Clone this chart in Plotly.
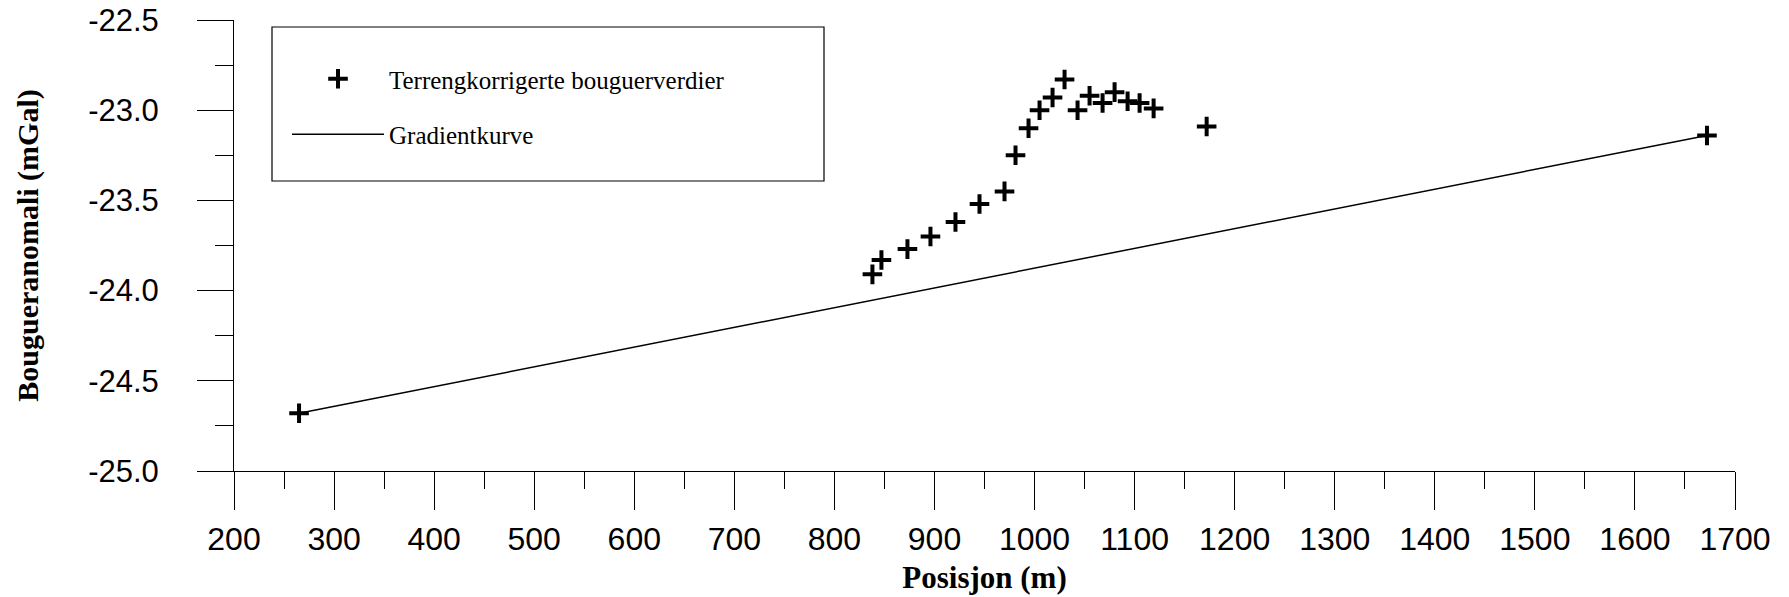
import plotly.graph_objects as go

# Terrain-corrected Bouguer values (position in m, anomaly in mGal)
pos_m = [265, 838, 847, 873, 896, 921, 945, 970, 981, 994, 1005, 1018, 1030,
         1043, 1055, 1068, 1080, 1093, 1105, 1119, 1172, 1672]
bouguer_mgal = [-24.68, -23.91, -23.83, -23.77, -23.70, -23.62, -23.52, -23.45,
                -23.25, -23.10, -23.00, -22.93, -22.83, -23.00, -22.92, -22.96,
                -22.90, -22.95, -22.96, -22.99, -23.09, -23.14]

# Gradient curve end points
grad_pos_m = [265, 1672]
grad_mgal = [-24.68, -23.14]

x_ticks = list(range(200, 1701, 100))
y_ticks = [-25.0, -24.5, -24.0, -23.5, -23.0, -22.5]
y_tick_text = ["-25.0", "-24.5", "-24.0", "-23.5", "-23.0", "-22.5"]

W, H = 1789, 597
ml, mr, mt, mb = 234, 54, 20, 126
PW, PH = W - ml - mr, H - mt - mb


def px_x(px):
    return (px - ml) / PW


def px_y(py):
    return 1 - (py - mt) / PH


fig = go.Figure()
fig.add_trace(go.Scatter(
    x=pos_m, y=bouguer_mgal, mode="markers",
    name="Terrengkorrigerte bouguerverdier", legendgroup="a",
    marker=dict(symbol="cross-thin", size=14, color="black",
                line=dict(color="black", width=4)),
))
fig.add_trace(go.Scatter(
    x=grad_pos_m, y=grad_mgal, mode="lines",
    name="Gradientkurve", legendgroup="b",
    line=dict(color="black", width=1.5),
))

axis_font = dict(family="Liberation Sans, Arial", size=31, color="black")
title_font = dict(family="Liberation Serif, Times New Roman", size=30, color="black")

fig.update_layout(
    width=W, height=H,
    margin=dict(l=ml, r=mr, t=mt, b=mb, autoexpand=False),
    paper_bgcolor="white", plot_bgcolor="white",
    showlegend=True,
    legend=dict(
        x=px_x(287), y=px_y(56),
        xanchor="left", yanchor="top",
        font=dict(family="Liberation Serif, Times New Roman", size=25, color="black"),
        bgcolor="rgba(0,0,0,0)", borderwidth=0,
        itemwidth=92, tracegroupgap=20, traceorder="grouped",
    ),
    xaxis=dict(
        range=[200, 1700], tickvals=x_ticks, ticktext=[str(v) for v in x_ticks],
        automargin=False,
        showgrid=False, zeroline=False, showline=True, linecolor="black", linewidth=1,
        ticks="outside", ticklen=38, tickwidth=1, tickcolor="black",
        minor=dict(dtick=50, ticks="outside", ticklen=17, tickwidth=1, tickcolor="black"),
        tickfont=dict(family="Liberation Sans, Arial", size=32, color="black"),
        ticklabelstandoff=2,
        title=dict(text="<b>Posisjon (m)</b>", font=dict(title_font, size=31), standoff=9),
    ),
    yaxis=dict(
        range=[-25, -22.5], tickvals=y_ticks, ticktext=y_tick_text,
        automargin=False,
        showgrid=False, zeroline=False, showline=True, linecolor="black", linewidth=1,
        ticks="outside", ticklen=36, tickwidth=1, tickcolor="black",
        minor=dict(dtick=0.25, ticks="outside", ticklen=18, tickwidth=1, tickcolor="black"),
        tickfont=axis_font,
        ticklabelstandoff=32,
        title=dict(text="<b>Bougueranomali (mGal)</b>", font=title_font, standoff=40),
    ),
    shapes=[dict(
        type="rect", xref="paper", yref="paper",
        x0=px_x(272), x1=px_x(824), y0=px_y(181), y1=px_y(27),
        line=dict(color="black", width=1.2), fillcolor="rgba(0,0,0,0)",
    )],
)

fig.write_html("out.html")
